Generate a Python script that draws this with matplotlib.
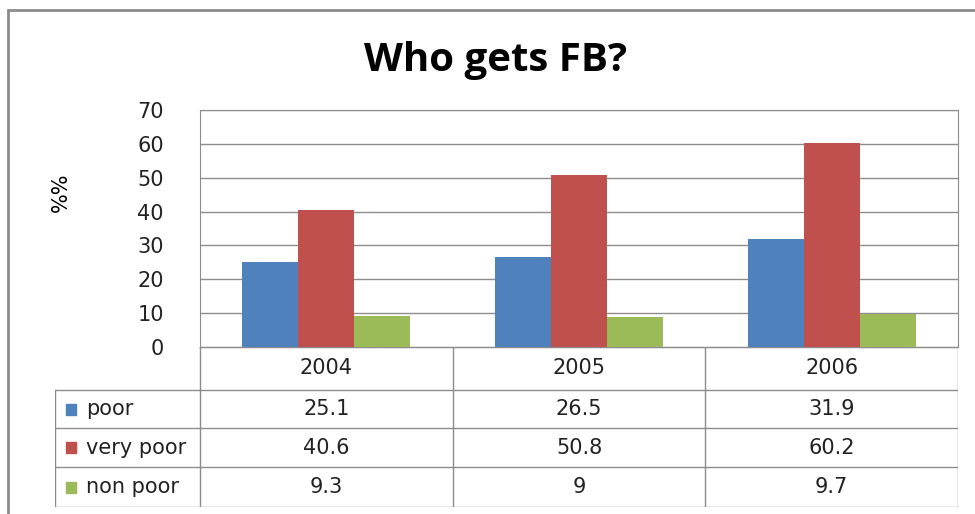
import numpy as np
import matplotlib.pyplot as plt
from matplotlib.patches import Rectangle

years = ["2004", "2005", "2006"]
series = ["poor", "very poor", "non poor"]
poor = [25.1, 26.5, 31.9]
very_poor = [40.6, 50.8, 60.2]
non_poor = [9.3, 9, 9.7]
colors = ["#4F81BD", "#C0504D", "#9BBB59"]

W, H = 975, 514
fig = plt.figure(figsize=(W / 100, H / 100), dpi=100)


def fx(px):
    return px / W


def fy(py):
    return 1 - py / H


# outer chart frame (right and bottom edges fall off the picture)
fig.patches.append(Rectangle((fx(8), fy(530)), fx(1000), fy(10) - fy(530),
                             transform=fig.transFigure, fill=False,
                             edgecolor="#8c8c8c", linewidth=2))

fig.text(fx(496), fy(60), "Who gets FB?", ha="center", va="center",
         fontsize=29, fontweight="bold", family="Open Sans")

left, right, top, bottom = 200, 958, 110, 347
ax = fig.add_axes([fx(left), fy(bottom), fx(right - left), fy(top) - fy(bottom)])
x = np.arange(len(years))
w = 0.222
for i, vals in enumerate([poor, very_poor, non_poor]):
    ax.bar(x + (i - 1) * w, vals, width=w, color=colors[i], zorder=3)
ax.set_xlim(-0.5, len(years) - 0.5)
ax.set_ylim(0, 70)
ax.set_yticks(range(0, 71, 10))
ax.set_xticks([])
ax.grid(axis="y", color="#8c8c8c", linewidth=1, zorder=0)
ax.tick_params(axis="y", length=0, labelsize=15, pad=26, labelcolor="#222222")
for s in ax.spines.values():
    s.set_color("#8c8c8c")
ax.set_ylabel("%%", fontsize=15)
ax.yaxis.set_label_coords(-0.171, 0.654)

# data table below the plot
tleft = 55
rows_y = [347, 390, 428, 467, 507]
tab = fig.add_axes([fx(tleft), fy(rows_y[-1]), fx(right - tleft), fy(rows_y[0]) - fy(rows_y[-1])])
tab.set_xlim(tleft, right)
tab.set_ylim(rows_y[-1], rows_y[0])
tab.axis("off")
lc = "#8c8c8c"
col_edges = [left + k * (right - left) / 3 for k in range(4)]
tab.plot([left, right], [rows_y[0], rows_y[0]], color=lc, lw=1)
for xe in col_edges:
    tab.plot([xe, xe], [rows_y[0], rows_y[-1]], color=lc, lw=1)
for yl in rows_y[1:]:
    tab.plot([tleft, right], [yl, yl], color=lc, lw=1)
tab.plot([tleft, tleft], [rows_y[1], rows_y[-1]], color=lc, lw=1)
for j, yr in enumerate(years):
    tab.text((col_edges[j] + col_edges[j + 1]) / 2, (rows_y[0] + rows_y[1]) / 2, yr,
             ha="center", va="center", fontsize=15, color="#222222")
for i, (name, vals) in enumerate(zip(series, [poor, very_poor, non_poor])):
    yc = (rows_y[i + 1] + rows_y[i + 2]) / 2
    tab.add_patch(Rectangle((66, yc - 5.5), 10, 11, color=colors[i]))
    tab.text(86, yc, name, ha="left", va="center", fontsize=15, color="#222222")
    for j, v in enumerate(vals):
        tab.text((col_edges[j] + col_edges[j + 1]) / 2, yc, f"{v:g}",
                 ha="center", va="center", fontsize=15, color="#222222")

fig.savefig("out.png", dpi=100)
